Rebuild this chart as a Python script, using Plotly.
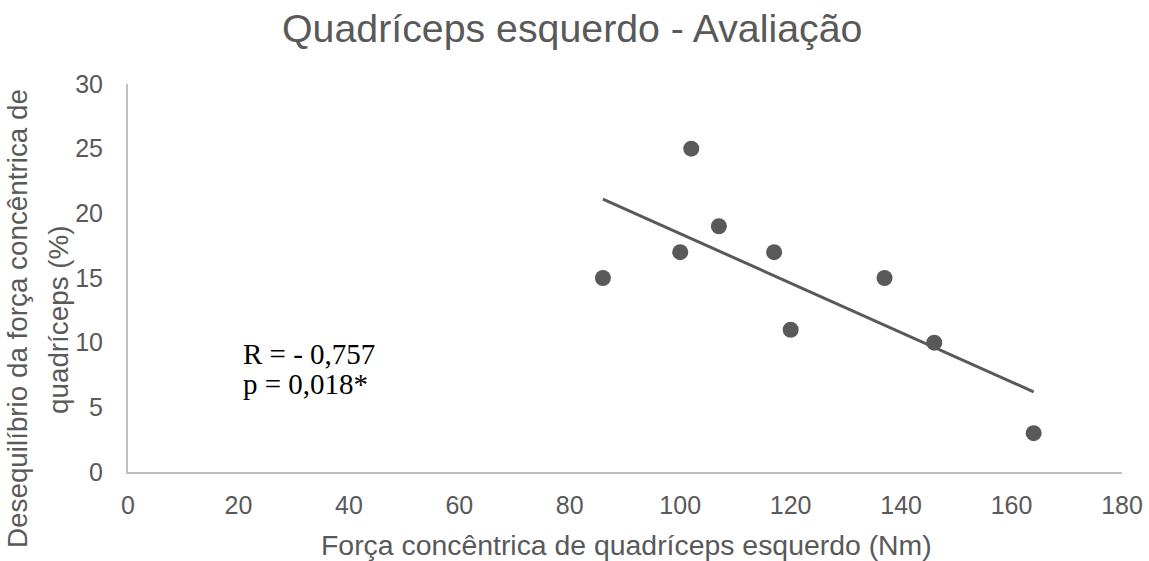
import plotly.graph_objects as go

# Data
forca_x = [86, 100, 102, 107, 117, 120, 137, 146, 164]
desequilibrio_y = [15, 17, 25, 19, 17, 11, 15, 10, 3]
trend_x = [86, 164]
trend_y = [21.1, 6.2]
x_ticks = [0, 20, 40, 60, 80, 100, 120, 140, 160, 180]
y_ticks = [0, 5, 10, 15, 20, 25, 30]

title_text = "Quadríceps esquerdo - Avaliação"
x_title = "Força concêntrica de quadríceps esquerdo (Nm)"
y_title_1 = "Desequilíbrio da força concêntrica de"
y_title_2 = "quadríceps (%)"
stat_1 = "R = - 0,757"
stat_2 = "p = 0,018*"

GRAY = "#595959"
AXIS = "#bfbfbf"
SANS = "Liberation Sans, Arial, sans-serif"
SERIF = "Liberation Serif, Times New Roman, serif"

fig = go.Figure()
fig.add_trace(go.Scatter(
    x=trend_x, y=trend_y, mode="lines",
    line=dict(color=GRAY, width=3), hoverinfo="skip", showlegend=False))
fig.add_trace(go.Scatter(
    x=forca_x, y=desequilibrio_y, mode="markers",
    marker=dict(color=GRAY, size=16, line=dict(width=0)), showlegend=False))

W, H = 1149, 561
L, R, T, B = 128, 27, 84, 89
pw, ph = W - L - R, H - T - B


def px(p):
    return (p - L) / pw


def py(p):
    return (H - B - p) / ph


fig.update_layout(
    width=W, height=H,
    margin=dict(l=L, r=R, t=T, b=B, autoexpand=False),
    paper_bgcolor="white", plot_bgcolor="white",
    font=dict(family=SANS, color=GRAY),
    xaxis=dict(range=[0, 180], tickvals=x_ticks, showgrid=False, zeroline=False,
               showline=True, linecolor=AXIS, linewidth=2, ticks="",
               tickfont=dict(size=25, color=GRAY, family=SANS),
               ticklabelstandoff=10, fixedrange=True, automargin=False),
    yaxis=dict(range=[0, 30], tickvals=y_ticks, showgrid=False, zeroline=False,
               showline=True, linecolor=AXIS, linewidth=2, ticks="",
               tickfont=dict(size=25, color=GRAY, family=SANS),
               ticklabelstandoff=18, fixedrange=True, automargin=False),
    annotations=[
        dict(text=title_text, xref="paper", yref="paper", x=px(572), y=py(28),
             xanchor="center", yanchor="middle", showarrow=False,
             font=dict(size=39.3, color=GRAY, family=SANS)),
        dict(text=x_title, xref="paper", yref="paper", x=px(626), y=py(545),
             xanchor="center", yanchor="middle", showarrow=False,
             font=dict(size=28.4, color=GRAY, family=SANS)),
        dict(text=y_title_1, xref="paper", yref="paper", x=px(17), y=py(319),
             xanchor="center", yanchor="middle", showarrow=False, textangle=-90,
             font=dict(size=27.8, color=GRAY, family=SANS)),
        dict(text=y_title_2, xref="paper", yref="paper", x=px(58), y=py(320),
             xanchor="center", yanchor="middle", showarrow=False, textangle=-90,
             font=dict(size=27.8, color=GRAY, family=SANS)),
        dict(text=stat_1, xref="paper", yref="paper", x=px(241), y=py(354),
             xanchor="left", yanchor="middle", showarrow=False,
             font=dict(size=29, color="black", family=SERIF)),
        dict(text=stat_2, xref="paper", yref="paper", x=px(241), y=py(384),
             xanchor="left", yanchor="middle", showarrow=False,
             font=dict(size=29, color="black", family=SERIF)),
    ],
)

fig.write_html(
    "out.html",
    config={"displayModeBar": False},
    post_script="document.body.style.margin='0';document.body.style.overflow='hidden';",
)
